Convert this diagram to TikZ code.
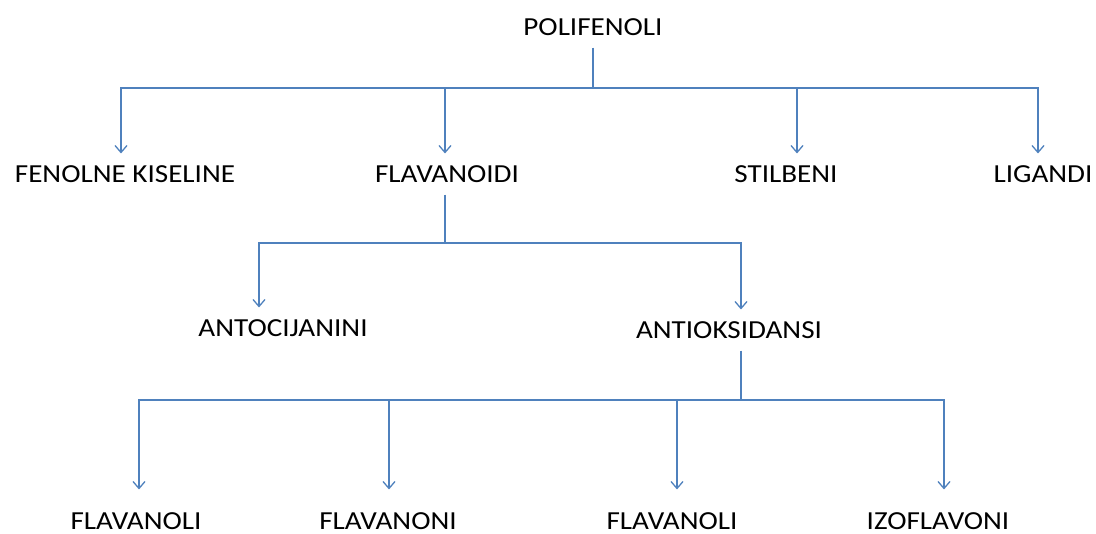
\documentclass[tikz,border=0pt]{standalone}
\usepackage{fontspec}
\setmainfont{Carlito}[FakeStretch=1.12]
\usetikzlibrary{arrows.meta}
\definecolor{linkblue}{RGB}{79,129,189}

\begin{document}
\begin{tikzpicture}[x=1pt, y=-1pt,
	lbl/.style={inner sep=0pt, outer sep=12pt, font=\fontsize{26}{28}\selectfont},
	lblbot/.style={lbl, outer sep=23pt},
	link/.style={linkblue, line width=1.3pt},
	arr/.style={link, -{Straight Barb[length=7pt, width=12pt]}}]
\useasboundingbox (0,0) rectangle (1096,534);
\node[lbl] (pol) at (593,27) {POLIFENOLI};
\node[lbl] (fen) at (125,174) {FENOLNE KISELINE};
\node[lbl] (fla) at (447,174) {FLAVANOIDI};
\node[lbl] (sti) at (786,174) {STILBENI};
\node[lbl] (lig) at (1043,174) {LIGANDI};
\node[lbl] (ant) at (283,328) {ANTOCIJANINI};
\node[lbl] (aok) at (729,330) {ANTIOKSIDANSI};
\node[lblbot] (fl1) at (136,521) {FLAVANOLI};
\node[lblbot] (fln) at (388,521) {FLAVANONI};
\node[lblbot] (fl2) at (672,521) {FLAVANOLI};
\node[lblbot] (izo) at (938,521) {IZOFLAVONI};
\coordinate (b1) at (593,88);
\coordinate (b2) at (445,243);
\coordinate (b3) at (741,400);
% first level
\draw[link] (b1 |- pol.south) -- (b1);
\draw[arr] (b1) -| ([xshift=-4pt]fen.north);
\draw[arr] (b1) -| ([xshift=-2pt]fla.north);
\draw[arr] (b1) -| ([xshift=11pt]sti.north);
\draw[arr] (b1) -| ([xshift=-5pt]lig.north);
% flavanoidi
\draw[link] (b2 |- fla.south) -- (b2);
\draw[arr] (b2) -| ([xshift=-24pt]ant.north);
\draw[arr] (b2) -| ([xshift=12pt]aok.north);
% antioksidansi
\draw[link] (b3 |- aok.south) -- (b3);
\draw[arr] (b3) -| ([xshift=3pt]fl1.north);
\draw[arr] (b3) -| ([xshift=1pt]fln.north);
\draw[arr] (b3) -| ([xshift=5pt]fl2.north);
\draw[arr] (b3) -| ([xshift=6pt]izo.north);
\end{tikzpicture}
\end{document}
